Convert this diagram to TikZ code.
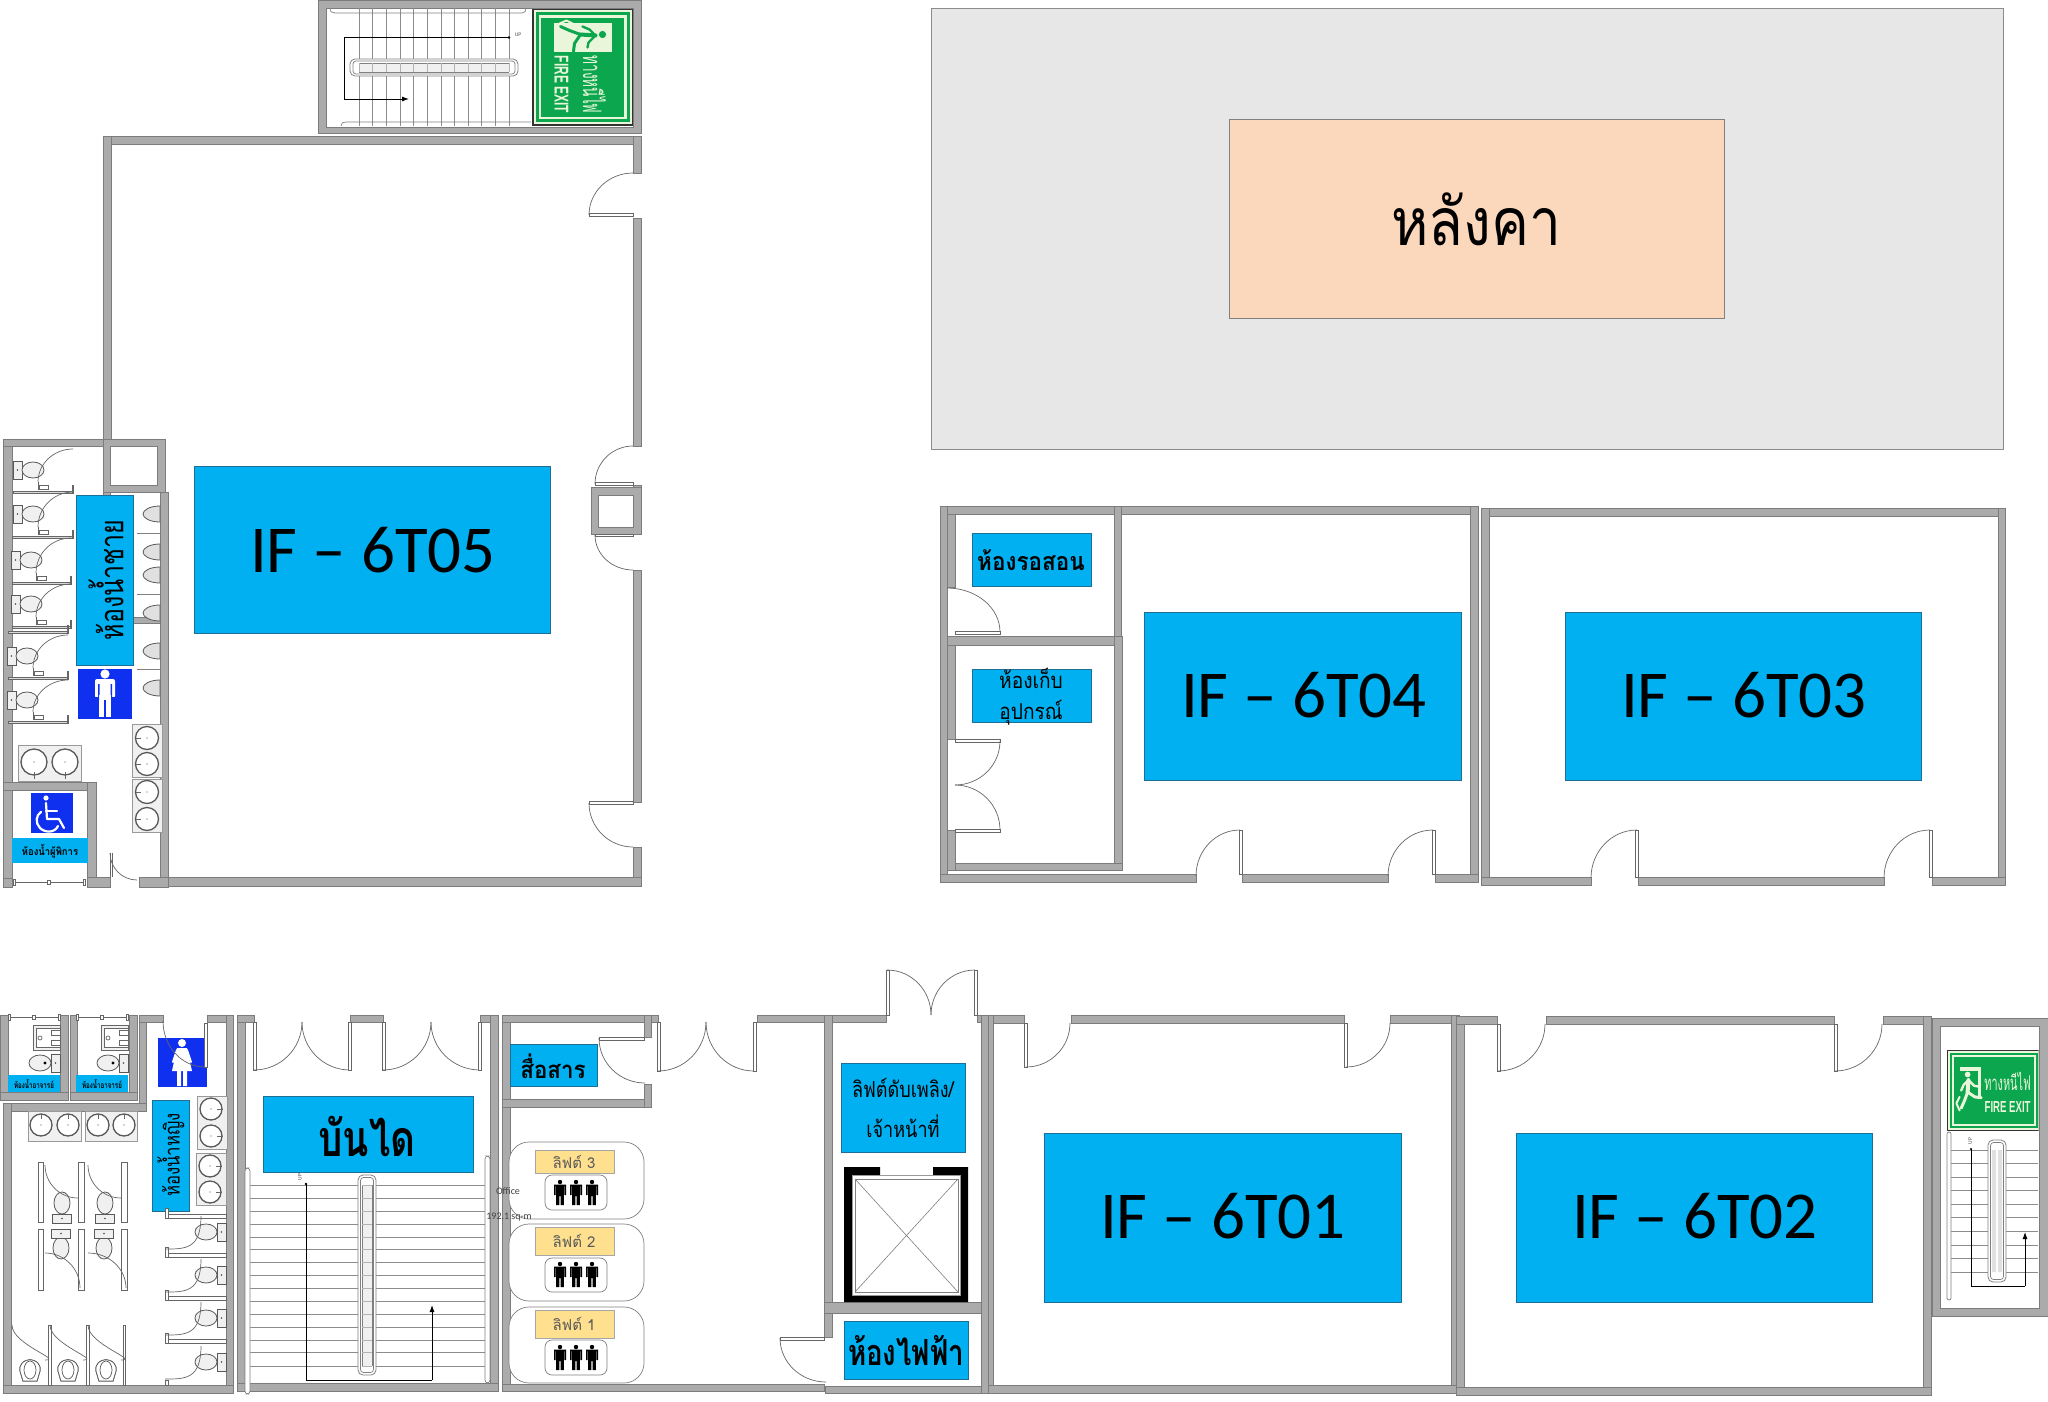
\documentclass[tikz,border=0pt]{standalone}
\usepackage{fontspec}
\setmainfont{Carlito}
\newfontfamily\thaifont[Script=Thai]{Loma}
\newfontfamily\signfont{Liberation Sans}
\usetikzlibrary{arrows.meta}
\definecolor{wallc}{HTML}{ABABAB}
\definecolor{wallln}{HTML}{7C7C7C}
\definecolor{roomblue}{HTML}{00B0F0}
\definecolor{iconblue}{HTML}{1030F0}
\definecolor{edgeblue}{HTML}{1E6E96}
\definecolor{signgreen}{HTML}{0BA64E}
\definecolor{signpale}{HTML}{E9F6DA}
\definecolor{roofgray}{HTML}{E7E7E7}
\definecolor{rooforange}{HTML}{FBD7BB}
\definecolor{liftyellow}{HTML}{FFE08F}
\definecolor{fixt}{HTML}{F0F0F0}
\tikzset{
  wall/.style={fill=wallc,draw=wallln,line width=0.6pt},
  inner/.style={fill=white,draw=wallln,line width=0.8pt},
  door/.style={draw=black!60,line width=0.7pt},
  panel/.style={draw=black!60,fill=white,line width=0.6pt},
  thin part/.style={draw=black!60,fill=black!15,line width=0.6pt},
  stairline/.style={draw=black!45,line width=0.9pt},
  rail/.style={draw=black!50,fill=white,line width=0.7pt},
  walk/.style={draw=black,line width=0.9pt},
  walkarrow/.style={draw=black,line width=0.9pt,-{Latex[length=7pt,width=5pt]}},
  roomlabel/.style={fill=roomblue,draw=edgeblue,line width=0.7pt},
  fixture/.style={fill=fixt,draw=black!65,line width=0.8pt},
  sinkblock/.style={fill=fixt,draw=black!40,line width=0.7pt},
  sinkbowl/.style={fill=white,draw=black!65,line width=1.3pt},
  iflabel/.style={font=\fontsize{67}{80}\selectfont,text=black,inner sep=0pt,anchor=center},
  thailabel/.style={font=\thaifont,text=black,inner sep=0pt,anchor=center,align=center},
  figline/.style={draw=white,line width=3pt,line cap=round,line join=round},
}
\newcommand{\sx}[2]{\scalebox{#1}[1]{#2}}
% quarter arc: leaves (x1,y1) horizontally, reaches (x2,y2) vertically
\newcommand{\qarc}[4]{\draw[door] (#1,#2) .. controls ({#1+0.5523*(#3-#1)},#2) and (#3,{#2+0.4477*(#4-#2)}) .. (#3,#4);}
\newcommand{\sinkc}[3]{\draw[sinkbowl] (#1,#2) circle (#3pt); \fill[black!70] (#1,#2) circle (0.7pt);}
\newcommand{\ftoilet}[3]{\begin{scope}[shift={(#1,#2)},rotate=#3]
  \draw[fixture,fill=fixt] (-14,-9) rectangle (-5,9);
  \fill[black!70] (-9.5,0) circle (0.9pt);
  \draw[fixture] (6,0) ellipse (11 and 8);
\end{scope}}
\newcommand{\urinal}[2]{\draw[fixture,fill=black!12] (#1,{#2-8}) .. controls ({#1-10},{#2-8}) and ({#1-17},{#2-4}) .. ({#1-17},#2) .. controls ({#1-17},{#2+4}) and ({#1-10},{#2+8}) .. (#1,{#2+8}) -- cycle;}
\newcommand{\frontwc}[2]{\draw[draw=black!65,fill=white,line width=0.7pt] ({#1-10},#2) .. controls ({#1-12},{#2-15}) and ({#1+12},{#2-15}) .. ({#1+10},#2) -- ({#1+7},{#2+10}) -- ({#1-7},{#2+10}) -- cycle;
  \draw[draw=black!65,line width=0.7pt] (#1,{#2-1}) ellipse (6 and 9);}
\newcommand{\person}[2]{\begin{scope}[shift={(#1,#2)}]
  \fill[black] (0,-11) circle (2.2);
  \fill[black] (-6,-8.5) rectangle (6,-7) (-6,-8) rectangle (-4.4,2) (4.4,-8) rectangle (6,2) (-3.8,-8) rectangle (3.8,3) (-3.8,3) rectangle (-0.6,12) (0.6,3) rectangle (3.8,12);
\end{scope}}
\newcommand{\slider}[3]{\draw[black!60,line width=0.8pt] (#1,#3) -- (#2,#3);
  \draw[fill=white,draw=black!60,line width=0.5pt] (#1,{#3-3}) rectangle ({#1+2},{#3+3});
  \draw[fill=white,draw=black!60,line width=0.5pt] ({#2-2},{#3-3}) rectangle (#2,{#3+3});
  \draw[fill=white,draw=black!60,line width=0.5pt] ({(#1+#2)/2-1.5},{#3-2}) rectangle ({(#1+#2)/2+1.5},{#3+2});}
% fire exit sign, local size 117 x 101 around its centre; #5 panel colour, #6 figure colour
\newcommand{\firesign}[6]{\begin{scope}[shift={(#1,#2)},rotate=#3,xscale=#4,yscale=#4,transform shape]
  \fill[black!80] (-58.5,-50.5) rectangle (58.5,50.5);
  \fill[signpale] (-57,-49) rectangle (57,49);
  \fill[signgreen] (-55,-47) rectangle (55,47);
  \fill[signpale] (-52,-44) rectangle (52,44);
  \fill[signgreen] (-49.5,-41.5) rectangle (49.5,41.5);
  \fill[#5] (-44,-29) rectangle (-15,29);
  \fill[signpale] (-42,-29) rectangle (-16,-25);
  \fill[signpale] (-20,-29) rectangle (-16,8);
  \fill[#6] (-33,-20) circle (3.6);
  \draw[#6,line cap=round,line join=round,line width=4pt] (-32,-13) -- (-33,2);
  \draw[#6,line cap=round,line join=round,line width=2.4pt] (-32,-13) -- (-25,-6) -- (-20,-5);
  \draw[#6,line cap=round,line join=round,line width=2.4pt] (-32,-13) -- (-38,-7) -- (-41,0);
  \draw[#6,line cap=round,line join=round,line width=3pt] (-33,2) -- (-24,8) -- (-16,9);
  \draw[#6,line cap=round,line join=round,line width=3pt] (-33,2) -- (-37,13) -- (-41,22);
  \draw[signpale,line cap=round,line join=round,line width=2pt] (-43,8) -- (-47,16) -- (-43,25);
  \node[inner sep=0pt,text=signpale] at (17,-12) {\scalebox{0.8}[1.5]{\thaifont\fontsize{17}{20}\selectfont ทางหนีไฟ}};
  \node[inner sep=0pt,text=signpale] at (17,21) {\scalebox{0.6}[1]{\signfont\bfseries\fontsize{20}{22}\selectfont FIRE EXIT}};
\end{scope}}
\begin{document}
\begin{tikzpicture}[x=1pt,y=-1pt]
\useasboundingbox[fill=white] (0,0) rectangle (2048,1402);

% ===== roof =====
\draw[fill=roofgray,draw=black!45,line width=0.8pt] (931,8) rectangle (2003,449);
\draw[fill=rooforange,draw=black!50,line width=0.8pt] (1229,119) rectangle (1724,318);
\node[thailabel,anchor=base,font=\thaifont\fontsize{66}{80}\selectfont] (roof) at (1476,245) {\sx{0.86}{หลังคา}};

% ===== upper stair =====
\draw[wall] (318,0) rectangle (641,133);
\draw[inner] (326,8) rectangle (633,127);
\foreach \x in {359,372.7,386.4,400,413.7,427.3,441,454.3,468,481.7,495.3,509}
  \draw[stairline] (\x,8) -- (\x,126);
\draw[draw=black!50,line width=0.7pt] (330,8) .. controls (330,12) and (332,13) .. (335,13) -- (522,13) .. controls (525,13) and (526,11) .. (526,8);
\draw[draw=black!50,line width=0.7pt] (341,126) .. controls (341,123) and (343,122) .. (346,122) -- (531,122);
\draw[draw=black!50,fill=white,line width=0.8pt,rounded corners=5pt] (350,59) rectangle (518,76);
\draw[draw=black!50,fill=white,line width=0.7pt,rounded corners=3pt] (353,61) rectangle (515,74);
\fill[black!6] (359,63) rectangle (509,72);
\draw[black!50,line width=0.5pt] (359,63) -- (509,63) (359,72) -- (509,72);
\foreach \x in {359,372.7,386.4,400,413.7,427.3,441,454.3,468,481.7,495.3,509}
  \draw[black!30,line width=0.5pt] (\x,63) -- (\x,72);
\coordinate (upa) at (509,37.5);
\coordinate (upb) at (344,37.5);
\coordinate (upc) at (344,99);
\coordinate (upd) at (409,99);
\fill[black] (upa) circle (1.3pt);
\draw[walk] (upa) -- (upb) -- (upc);
\draw[walkarrow] (upc) -- (upd);
\node[inner sep=0pt,font=\fontsize{5.5}{6}\selectfont,text=black!70] (uplabel) at (518,35) {UP};
\firesign{582.5}{67.5}{-90}{1}{signpale}{signgreen}

% ===== IF-6T05 room =====
\foreach \a/\b/\c/\d in {103/136/641/144, 103/136/111/439, 633/136/641/173, 633/218/641/446,
  633/485/641/530, 633/570/641/802, 633/847/641/886, 160/877/641/886}
  \draw[wall] (\a,\b) rectangle (\c,\d);
\draw[wall] (591,487) rectangle (641,534);
\draw[inner] (598,495) rectangle (633,527);
\draw[panel] (589,213.5) rectangle (633,216.5);
\qarc{633}{173}{589}{215}
\draw[panel] (595,482) rectangle (633,485);
\qarc{633}{446}{595}{484}
\draw[panel] (595,534) rectangle (633,536);
\qarc{633}{570}{595}{535}
\draw[panel] (589,801.5) rectangle (633,804.5);
\qarc{633}{847}{589}{803}

% washroom (men)
\foreach \a/\b/\c/\d in {3/439/12/887, 3/439/110/446, 160/492/168/887, 132/617/160/623, 103/492/110/495}
  \draw[wall] (\a,\b) rectangle (\c,\d);
\draw[wall] (103,439) rectangle (165,492);
\draw[inner] (110,446) rectangle (157,485);
\foreach \a/\b/\c/\d in {3/782/96/790, 87/782/96/887, 87/877/110/887, 139/877/168/887, 3/878/12/887}
  \draw[wall] (\a,\b) rectangle (\c,\d);
\foreach \tx/\ty in {27/470, 27/514, 25/560, 25/604, 21/656, 21/700} {\ftoilet{\tx}{\ty}{0}}
% stall partitions and doors
\foreach \xa/\xb/\yy in {13/73/492, 12/73/537, 12/71/583, 12/71/627, 8/68/632, 8/68/678, 8/68/722} {
  \draw[thin part] (\xa,{\yy-1}) rectangle (\xb,{\yy+1});
  \draw[thin part] ({\xb-1},{\yy-7}) rectangle (\xb,\yy);
}
\foreach \xa/\yt/\yb in {38/449/490, 38/492/535, 36/538/581, 36/584/625, 33/635/676, 33/680/720} {
  \pgfmathsetmacro{\xe}{\xa+35}
  \qarc{\xe}{\yt}{\xa}{\yb-8}
  \draw[door] (\xa,\yb-8) -- (\xa,\yb);
  \draw[thin part,fill=white] (\xa+1,\yb-5) rectangle (\xa+10,\yb-1);
}
% urinals
\foreach \yy in {514,552,575,613,651,688} {\urinal{160}{\yy}}
\foreach \yy in {533,594,669} \draw[black!50,line width=1pt] (137,\yy) -- (160,\yy);
% sinks
\draw[sinkblock] (132,724) rectangle (162,777);
\draw[sinkblock] (132,779) rectangle (162,832);
\draw[sinkblock] (18,745) rectangle (81,781);
\foreach \cy in {738,764,792,819} {\sinkc{147}{\cy}{11.5}
  \draw[black!60,line width=0.8pt] (136,\cy) -- (141,\cy);}
\sinkc{34}{762}{13}\sinkc{65}{762}{13}
\draw[black!60,line width=0.8pt] (34,772) -- (34,779) (65,772) -- (65,779);
% door of men's room
\qarc{137}{880}{110}{853}
\draw[door] (110,853) -- (110,877);
\draw[door] (112,853) -- (112,877);
% accessible wc
\fill[iconblue] (31,793) rectangle (73,833);
\fill[white] (46,798) circle (2.6);
\draw[figline,line width=2.2pt] (46,803) -- (47,819) -- (59,819) -- (64,828);
\draw[figline,line width=2.2pt] (46,811) -- (57,811);
\draw[figline,line width=2.2pt] (41,812) .. controls (36,815) and (35,823) .. (40,828) .. controls (45,833) and (55,833) .. (58,826);
\fill[roomblue] (12,838) rectangle (88,863);
\node[thailabel,font=\thaifont\bfseries\fontsize{10.5}{12}\selectfont] (acc) at (50,851) {\sx{0.9}{ห้องน้ำผู้พิการ}};
\slider{13}{85}{882}
% men's label and icon
\draw[roomlabel] (76,495) rectangle (133,665);
\node[thailabel,font=\thaifont\fontsize{33}{36}\selectfont,rotate=90] (men) at (106,580) {\sx{0.76}{ห้องน้ำชาย}};
\fill[iconblue] (78,669) rectangle (132,719);
\fill[white] (105,674) circle (4.6);
\fill[white,rounded corners=2pt] (95,679) rectangle (115,698);
\fill[iconblue] (98,684) rectangle (99.5,698) (110.5,684) rectangle (112,698);
\fill[white] (99,695) rectangle (111,717);
\fill[iconblue] (104.4,700) rectangle (105.6,717);
\fill[iconblue] (95,697) rectangle (99,700) (111,697) rectangle (115,700);
% main room label
\draw[roomlabel] (194,466) rectangle (550,633);
\node[iflabel] (r05) at (373,550) {IF – 6T05};

% ===== 6T04 =====
\foreach \a/\b/\c/\d in {940/506/1478/514, 940/506/947/882, 1470/506/1478/882,
  940/874/1196/882, 1242/874/1388/882, 1435/874/1478/882,
  947/514/955/587, 1114/506/1121/636, 947/636/1122/645, 1114/636/1122/870,
  947/863/1122/870, 947/645/955/739, 947/830/955/870}
  \draw[wall] (\a,\b) rectangle (\c,\d);
\draw[panel] (955,631) rectangle (1000,634);
\qarc{947}{588}{1000}{632}
\draw[panel] (955,739) rectangle (1000,742);
\qarc{955}{785}{1000}{741}
\qarc{955}{785}{1000}{830}
\draw[panel] (955,829) rectangle (1000,832);
\draw[panel] (1239,830) rectangle (1242,874);
\qarc{1240}{830}{1196}{876}
\draw[panel] (1432,830) rectangle (1435,874);
\qarc{1433}{830}{1388}{876}
\draw[roomlabel] (972,533) rectangle (1091,586);
\node[thailabel,font=\thaifont\bfseries\fontsize{25}{30}\selectfont] (wait) at (1031,560) {\sx{0.9}{ห้องรอสอน}};
\draw[roomlabel] (972,669) rectangle (1091,722);
\node[thailabel,font=\thaifont\fontsize{22}{31}\selectfont] (store) at (1031,697) {\sx{0.87}{ห้องเก็บ}\\\sx{0.87}{อุปกรณ์}};
\draw[roomlabel] (1144,612) rectangle (1461,780);
\node[iflabel] (r04) at (1304,695) {IF – 6T04};

% ===== 6T03 =====
\foreach \a/\b/\c/\d in {1481/508/2005/516, 1481/508/1489/885, 1998/508/2005/885,
  1481/877/1591/885, 1638/877/1884/885, 1932/877/2005/885}
  \draw[wall] (\a,\b) rectangle (\c,\d);
\draw[panel] (1635,830) rectangle (1638,877);
\qarc{1637}{830}{1591}{878}
\draw[panel] (1929,830) rectangle (1932,877);
\qarc{1930}{830}{1884}{878}
\draw[roomlabel] (1565,612) rectangle (1921,780);
\node[iflabel] (r03) at (1744,695) {IF – 6T03};

% ===== lower left washrooms =====
\foreach \a/\b/\c/\d in {0/1015/8/1100, 60/1015/68/1100, 0/1092/68/1100,
  70/1015/77/1100, 129/1015/137/1100, 70/1092/137/1100,
  139/1015/146/1111, 139/1015/163/1022, 207/1015/233/1022, 226/1015/233/1393,
  3/1103/146/1111, 3/1103/11/1393, 3/1385/233/1393}
  \draw[wall] (\a,\b) rectangle (\c,\d);
\foreach \o in {0,68} {
  \begin{scope}[xshift=\o pt]
    \slider{8}{60}{1017}
    \draw[sinkblock,draw=black!60] (33,1025) rectangle (60,1050);
    \draw[black!60,fill=white,line width=0.6pt] (36,1028) rectangle (60,1047);
    \draw[black!60,line width=0.7pt] (40,1038) circle (2);
    \draw[black!60,line width=0.6pt] (51,1030) rectangle (60,1035) (51,1040) rectangle (60,1045);
    \ftoilet{46}{1063}{180}
    \fill[black] (45,1063) circle (1.6);
    \fill[roomblue] (8,1075) rectangle (60,1092);
  \end{scope}
}
\node[thailabel,font=\thaifont\bfseries\fontsize{8.5}{10}\selectfont] (tw1) at (34,1084) {\sx{0.73}{ห้องน้ำอาจารย์}};
\node[thailabel,font=\thaifont\bfseries\fontsize{8.5}{10}\selectfont] (tw2) at (102,1084) {\sx{0.73}{ห้องน้ำอาจารย์}};
% women's icon and door
\fill[iconblue] (158,1038) rectangle (207,1087);
\fill[white] (182,1043) circle (4);
\fill[white] (177,1048) -- (187,1048) -- (192,1071) -- (172,1071) -- cycle;
\draw[figline,line width=2pt] (177,1050) -- (173,1062) (187,1050) -- (191,1062);
\fill[white] (177,1071) rectangle (181,1086) (183,1071) rectangle (187,1086);
\draw[panel] (204,1023) rectangle (207,1067);
\qarc{205}{1067}{163}{1021}
% women's label
\draw[roomlabel] (152,1100) rectangle (189,1211);
\node[thailabel,font=\thaifont\fontsize{21}{24}\selectfont,rotate=90] (women) at (171,1155) {\sx{0.8}{ห้องน้ำหญิง}};
% women's sinks
\draw[sinkblock] (197,1096) rectangle (227,1149);
\draw[sinkblock] (196,1153) rectangle (226,1205);
\foreach \cx/\cy in {211/1109, 211/1136, 210/1166, 210/1192} {\sinkc{\cx}{\cy}{11}
  \draw[black!60,line width=0.8pt] ({\cx+6},\cy) -- ({\cx+12},\cy);}
\draw[sinkblock] (28,1111) rectangle (81,1141);
\draw[sinkblock] (85,1111) rectangle (137,1141);
\foreach \cx in {41,68,98,124} {\sinkc{\cx}{1125}{11}
  \draw[black!60,line width=0.8pt] (\cx,1114) -- (\cx,1119);}
% middle stalls
\foreach \xa/\xb in {38/43, 78/84, 121/127} {
  \draw[panel] (\xa,1162) rectangle (\xb,1222);
  \draw[panel] (\xa,1229) rectangle (\xb,1290);
}
\foreach \tx in {62,105} {
  \draw[fixture] (\tx,1203) ellipse (8 and 11);
  \draw[fixture] ({\tx-9.5},1214) rectangle ({\tx+9.5},1223);
  \fill[black!70] (\tx,1218.5) circle (0.9pt);
}
\foreach \tx in {61,104} {
  \draw[fixture] (\tx,1248) ellipse (8 and 11);
  \draw[fixture] ({\tx-9.5},1229) rectangle ({\tx+9.5},1238);
  \fill[black!70] (\tx,1233.5) circle (0.9pt);
}
\qarc{78}{1198}{45}{1165}
\qarc{121}{1198}{88}{1165}
\qarc{45}{1253}{80}{1288}
\qarc{88}{1253}{126}{1288}
% bottom stalls
\foreach \xx in {48,86} \draw[panel] (\xx,1325) rectangle ({\xx+3},1385);
\draw[panel] (123,1325) rectangle (125,1385);
\foreach \xx in {12,50,88} \qarc{\xx+33}{1360}{\xx}{1325}
\foreach \cx in {30,68,106} {\frontwc{\cx}{1371}}
% right stalls
\foreach \yy in {1216,1255,1298,1341} {
  \draw[panel] (165,{\yy-2}) rectangle (226,{\yy+2});
  \draw[panel] (165,{\yy-8}) rectangle (168,{\yy+2});
}
\draw[panel] (165,1380) rectangle (168,1385);
\foreach \yy in {1232,1275,1318,1362} {
  \ftoilet{212}{\yy}{180}
  \qarc{165}{\yy+17}{201}{\yy-16}
}

% ===== central stair =====
\foreach \a/\b/\c/\d in {237/1015/245/1391, 237/1015/254/1022, 350/1015/383/1022, 480/1015/498/1022,
  490/1015/498/1391, 237/1383/498/1391}
  \draw[wall] (\a,\b) rectangle (\c,\d);
\foreach \yy in {1185,1198,1211,1224,1237,1249.7,1262.7,1275.7,1288.3,1301.3,1314.3,1327,1340,1352.7,1366}
  \draw[stairline] (245,\yy) -- (490,\yy);
\draw[rail,rounded corners=3pt] (245,1168) rectangle (250,1394);
\draw[rail,rounded corners=3pt] (485,1156) rectangle (490,1383);
\draw[draw=black!50,fill=white,line width=0.8pt,rounded corners=5pt] (358,1175) rectangle (376,1375);
\draw[draw=black!50,fill=white,line width=0.7pt,rounded corners=3pt] (360.5,1177.5) rectangle (373.5,1372.5);
\fill[black!6] (362,1185) rectangle (372,1366);
\draw[black!50,line width=0.5pt] (362,1185) -- (362,1366) (372,1185) -- (372,1366);
\foreach \yy in {1185,1198,1211,1224,1237,1249.7,1262.7,1275.7,1288.3,1301.3,1314.3,1327,1340,1352.7,1366}
  \draw[black!30,line width=0.5pt] (362,\yy) -- (372,\yy);
\draw[panel] (253,1022) rectangle (256,1070);
\qarc{254}{1070}{302}{1022}
\qarc{350}{1070}{302}{1022}
\draw[panel] (348,1022) rectangle (351,1070);
\draw[panel] (382,1022) rectangle (385,1070);
\qarc{383}{1070}{431}{1022}
\qarc{480}{1070}{431}{1022}
\draw[panel] (478,1022) rectangle (481,1070);
\draw[roomlabel] (263,1096) rectangle (473,1172);
\node[thailabel,font=\thaifont\bfseries\fontsize{50}{60}\selectfont] (stair) at (367,1136) {\sx{0.77}{บันได}};
\coordinate (ma) at (306,1184);
\coordinate (mb) at (306,1380);
\coordinate (mc) at (432,1380);
\coordinate (md) at (432,1305);
\fill[black] (ma) circle (1.3pt);
\draw[walk] (ma) -- (mb) -- (mc);
\draw[walkarrow] (mc) -- (md);
\node[inner sep=0pt,font=\fontsize{5.5}{6}\selectfont,text=black!70,rotate=90] (upm) at (300,1177) {UP};

% ===== corridor / lift lobby =====
\foreach \a/\b/\c/\d in {502/1015/510/1391, 502/1015/658/1022, 502/1099/651/1107, 644/1015/651/1037,
  644/1084/651/1107, 502/1384/824/1391, 757/1015/886/1022, 824/1015/832/1313, 824/1302/988/1313,
  824/1313/832/1337, 825/1386/988/1393, 977/1015/988/1022, 981/1015/988/1393,
  988/1015/993/1393, 993/1015/1024/1023, 1071/1015/1344/1023, 1390/1015/1459/1023,
  1451/1015/1459/1393, 988/1385/1459/1393,
  1456/1016/1464/1395, 1456/1016/1497/1024, 1546/1016/1834/1024, 1883/1016/1931/1024,
  1923/1016/1931/1395, 1456/1387/1931/1395}
  \draw[wall] (\a,\b) rectangle (\c,\d);
\draw[roomlabel] (510,1044) rectangle (597,1086);
\node[thailabel,font=\thaifont\bfseries\fontsize{24}{28}\selectfont] (comm) at (553,1066) {\sx{0.93}{สื่อสาร}};
\draw[panel] (599,1037) rectangle (644,1040);
\qarc{645}{1083}{599}{1038}
\draw[panel] (657,1022) rectangle (660,1071);
\qarc{658}{1071}{706}{1022}
\qarc{754}{1071}{706}{1022}
\draw[panel] (753,1022) rectangle (756,1071);
% double door of the lift lobby
\draw[panel] (886,970) rectangle (889,1015);
\qarc{887}{970}{931}{1015}
\qarc{975}{970}{931}{1015}
\draw[panel] (974,970) rectangle (977,1015);
% lift cards
\foreach \ya/\yb/\ta/\tb/\ia/\ib/\num/\pc/\tc in {1142/1219/1150/1173/1175/1210/3/1193/1162, 1224/1301/1227/1255/1258/1292/2/1275/1241, 1307/1383/1310/1338/1340/1375/1/1358/1324} {
  \draw[draw=black!50,fill=white,line width=0.7pt,rounded corners=20pt] (509,\ya) rectangle (644,\yb);
  \draw[draw=black!35,fill=liftyellow,line width=0.7pt] (535,\ta) rectangle (614,\tb);
  \draw[draw=black!50,fill=white,line width=0.7pt,rounded corners=7pt] (545,\ia) rectangle (607,\ib);
  \person{560}{\pc}\person{576}{\pc}\person{592}{\pc}
  \node[thailabel,font=\thaifont\fontsize{15}{18}\selectfont,text=black!65] at (574,\tc) {ลิฟต์ \num};
}
\node[inner sep=0pt,font=\fontsize{10}{12}\selectfont,text=black!75] (office) at (508,1191) {Office};
\node[inner sep=0pt,font=\fontsize{10}{12}\selectfont,text=black!75] (area) at (509,1217) {192.1 sq-m};
% fire lift
\draw[roomlabel] (841,1063) rectangle (965,1152);
\node[thailabel,font=\thaifont\fontsize{22}{40}\selectfont] (firelift) at (903,1108) {\sx{0.82}{ลิฟต์ดับเพลิง/}\\\sx{0.82}{เจ้าหน้าที่}};
\fill[black] (844,1167) -- (880,1167) -- (880,1175) -- (933,1175) -- (933,1167) -- (968,1167) -- (968,1302) -- (844,1302) -- cycle;
\draw[white,fill=white] (852,1175) rectangle (960,1295);
\draw[black!40,line width=0.8pt] (852,1175) rectangle (960,1295);
\draw[black!50,line width=0.8pt] (855,1179) rectangle (958,1292);
\draw[black!50,line width=0.6pt] (855,1179) -- (958,1292) (958,1179) -- (855,1292);
% electrical room
\draw[roomlabel] (844,1321) rectangle (968,1379);
\node[thailabel,font=\thaifont\bfseries\fontsize{36}{42}\selectfont] (elec) at (906,1351) {\sx{0.77}{ห้องไฟฟ้า}};
\draw[panel] (780,1337) rectangle (824,1340);
\qarc{826}{1382}{780}{1338}

% ===== 6T01 / 6T02 =====
\draw[panel] (1024,1023) rectangle (1027,1067);
\qarc{1026}{1067}{1070}{1023}
\draw[panel] (1344,1023) rectangle (1347,1067);
\qarc{1346}{1067}{1390}{1023}
\draw[roomlabel] (1044,1133) rectangle (1401,1302);
\node[iflabel] (r01) at (1223,1216) {IF – 6T01};
\draw[panel] (1497,1024) rectangle (1500,1071);
\qarc{1498}{1071}{1545}{1024}
\draw[panel] (1834,1024) rectangle (1837,1071);
\qarc{1835}{1071}{1882}{1024}
\draw[roomlabel] (1516,1133) rectangle (1872,1302);
\node[iflabel] (r02) at (1695,1216) {IF – 6T02};

% ===== right stair =====
\draw[wall] (1932,1018) rectangle (2048,1316);
\draw[inner] (1940,1026) rectangle (2039,1308);
\foreach \yy in {1150,1163.5,1177,1190.5,1204,1217,1231,1245,1258,1272}
  \draw[stairline,line width=0.7pt] (1947,\yy) -- (2038,\yy);
\draw[rail,rounded corners=2pt] (1947,1132) rectangle (1951,1300);
\draw[draw=black!50,fill=white,line width=0.8pt,rounded corners=5pt] (1988,1140) rectangle (2006,1282);
\draw[draw=black!50,fill=white,line width=0.7pt,rounded corners=3pt] (1990.5,1142.5) rectangle (2003.5,1279.5);
\fill[black!12] (1992,1150) rectangle (1996,1272) (1998,1150) rectangle (2002,1272);
\coordinate (ra) at (1971,1149);
\coordinate (rb) at (1971,1286);
\coordinate (rc) at (2025,1286);
\coordinate (rd) at (2025,1232);
\fill[black] (ra) circle (1.2pt);
\draw[walk] (ra) -- (rb) -- (rc);
\draw[walkarrow] (rc) -- (rd);
\node[inner sep=0pt,font=\fontsize{5.5}{6}\selectfont,text=black!70,rotate=90] (upr) at (1970,1141) {UP};
\begin{scope}
  \clip (1940,1040) rectangle (2038.5,1140);
  \firesign{1994}{1090.5}{0}{0.8}{signgreen}{signpale}
\end{scope}
\end{tikzpicture}
\end{document}
